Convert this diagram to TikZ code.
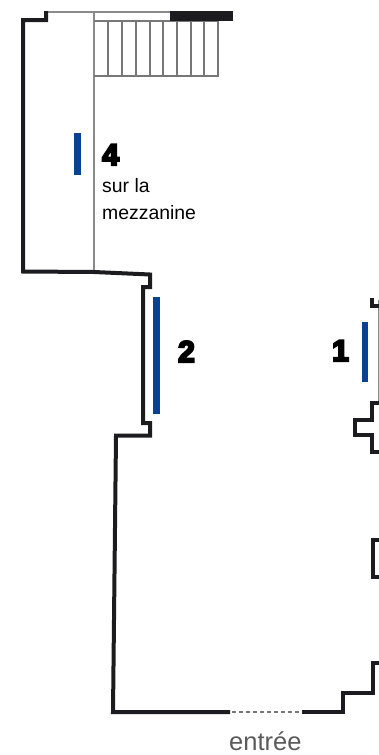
\documentclass[tikz,border=0pt]{standalone}
\usepackage{fontspec}
\setmainfont{Liberation Sans}
\newfontfamily\heavy[FakeBold=7]{Liberation Sans Bold}
\definecolor{wallc}{HTML}{1C1C20}
\definecolor{thinc}{HTML}{8A8A8A}
\definecolor{stairc}{HTML}{777777}
\definecolor{bluec}{HTML}{0B4191}
\definecolor{entc}{HTML}{5A5A5A}
\tikzset{
  wall/.style={draw=wallc,line width=4pt,line join=miter},
  thin line/.style={draw=thinc,line width=1.1pt},
  stair line/.style={draw=stairc,line width=1.3pt},
  marker/.style={fill=bluec,draw=none},
  numlabel/.style={anchor=base west,inner sep=0pt,font=\heavy\fontsize{30}{30}\selectfont},
  txtlabel/.style={anchor=base west,inner sep=0pt,font=\fontsize{19.4}{19.4}\selectfont},
}
\begin{document}
\begin{tikzpicture}[x=1pt,y=-1pt]
\useasboundingbox (0,0) rectangle (379,755);
% thin lines
\draw[thin line] (46,12) -- (170,12);
\draw[thin line] (94,12) -- (94,272);
\draw[thin line] (379,300) -- (379,404);
% stairs
\draw[stair line] (94,21) -- (218,21) -- (218,76) -- (94,76);
\foreach \x in {108,122,136,150,163,177,191,204}
  \draw[stair line] (\x,21) -- (\x,76);
% black slab
\fill[wallc] (170,11) rectangle (233,20.5);
% main walls
\draw[wall] (46,11) -- (46,20) -- (23,20) -- (23,271.5) -- (94,272) -- (150,274.5) -- (150,287) -- (143,287) -- (143,423) -- (150,423) -- (150,435.5) -- (116,435.5) -- (113,712) -- (230,712);
\draw[wall] (302,712) -- (343,712) -- (343,693) -- (373,693) -- (373,663) -- (379,663);
\draw[wall] (371.5,298) -- (371.5,306) -- (379,306);
\draw[wall] (379,403) -- (371.5,403) -- (371.5,420) -- (355,420) -- (355,435) -- (371.5,435) -- (371.5,452) -- (379,452);
\draw[wall] (379,540) -- (373,540) -- (373,577) -- (379,577);
% entrance
\draw[draw=stairc,line width=1.5pt,dash pattern=on 3.5pt off 3.5pt] (232,712) -- (302,712);
% markers
\fill[marker] (74,133) rectangle (80.5,175);
\fill[marker] (153,297) rectangle (159.5,414);
\fill[marker] (361.5,322) rectangle (368,382);
% labels
\node[numlabel] (n4) at (102,165) {4};
\node[numlabel] (n2) at (178,362) {2};
\node[numlabel] (n1) at (332,361) {1};
\node[txtlabel] (sur) at (102,192) {sur la};
\node[txtlabel] (mez) at (102,219) {mezzanine};
\node[anchor=base west,inner sep=0pt,text=entc,font=\fontsize{25.5}{25.5}\selectfont] (ent) at (229,750.5) {entrée};
\end{tikzpicture}
\end{document}
